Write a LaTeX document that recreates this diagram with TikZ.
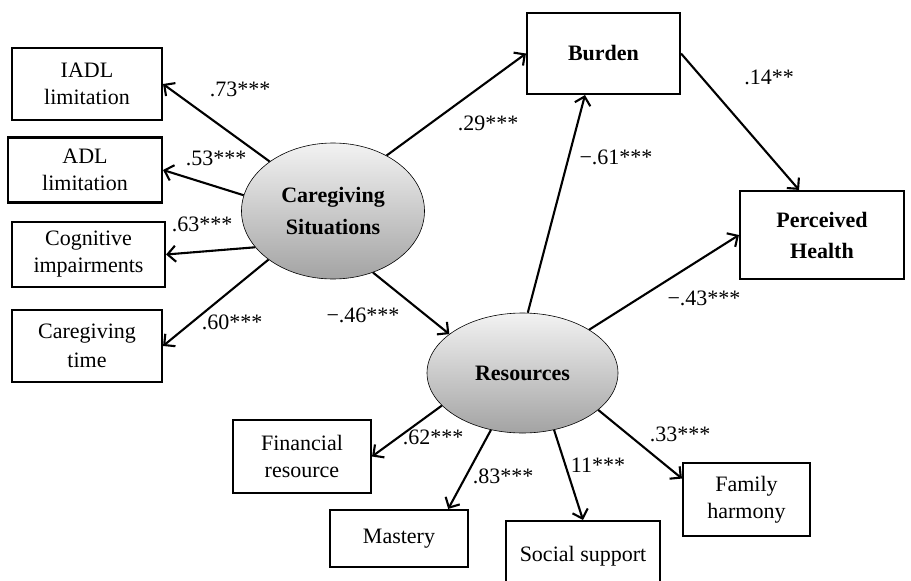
\documentclass[tikz,border=0pt]{standalone}
\usepackage{fontspec}
\setmainfont{Liberation Serif}
\usetikzlibrary{shapes.geometric,arrows.meta}

\begin{document}
\begin{tikzpicture}[x=1pt,y=-1pt,
  font=\fontsize{22}{27}\selectfont,
  var/.style={draw,line width=2.1pt,align=center,inner sep=0pt},
  boldvar/.style={var,font=\fontsize{22}{31}\selectfont\bfseries},
  latent/.style={ellipse,draw,line width=0.6pt,top color=gray!10,bottom color=gray!72,
    align=center,inner sep=0pt,font=\fontsize{22}{32}\selectfont\bfseries},
  path/.style={line width=2.1pt,-{Straight Barb[length=8pt,width=16pt]}},
  coef/.style={inner sep=0pt}]
\clip (0,0) rectangle (911,581);

\node[var,minimum width=150,minimum height=72] (iadl) at (87,84) {IADL\\limitation};
\node[var,minimum width=154,minimum height=65] (adl) at (85,170) {ADL\\limitation};
\node[var,minimum width=153,minimum height=65] (cog) at (88.5,254.5) {Cognitive\\impairments};
\node[var,minimum width=150,minimum height=72,font=\fontsize{22}{29}\selectfont] (ctime) at (87,346) {Caregiving\\time};
\node[boldvar,minimum width=153,minimum height=81] (burden) at (603.5,53.5) {Burden};
\node[boldvar,minimum width=164,minimum height=88] (health) at (822,235) {Perceived\\Health};
\node[var,minimum width=138,minimum height=73] (fin) at (302,456.5) {Financial\\resource};
\node[var,minimum width=138,minimum height=57] (mastery) at (399,538.5) {Mastery};
\node[var,minimum width=154,minimum height=70] (social) at (583,556) {Social support};
\node[var,minimum width=127,minimum height=73] (family) at (746.5,499.5) {Family\\harmony};

\node[latent,minimum width=183,minimum height=136] (cs) at (333,211) {Caregiving\\Situations};
\node[latent,minimum width=191,minimum height=120] (res) at (522.5,373) {Resources};

\draw[path] (cs.142) -- (iadl.east);
\draw[path] (cs.170) -- (adl.east);
\draw[path] (cs.205) -- (cog.east);
\draw[path] (cs.217) -- (ctime.east);
\draw[path] (cs.46) -- (burden.west);
\draw[path] (cs.303) -- (res.152);
\draw[path] (res.85) -- (burden.246);
\draw[path] (res.33) -- (health.west);
\draw[path] (burden.east) -- (health.117);
\draw[path] (res.202) -- (fin.east);
\draw[path] (res.241) -- (mastery.31);
\draw[path] (res.299) -- (social.north);
\draw[path] (res.334) -- (family.162);

\node[coef] (c73) at (240,89) {.73***};
\node[coef] (c53) at (216,158) {.53***};
\node[coef] (c63) at (202,224) {.63***};
\node[coef] (c60) at (232,322) {.60***};
\node[coef] (c46) at (363,315) {−.46***};
\node[coef] (c29) at (488,123) {.29***};
\node[coef] (c61) at (616,157) {−.61***};
\node[coef] (c14) at (769,77) {.14**};
\node[coef] (c43) at (704,298) {−.43***};
\node[coef] (c62) at (433,437) {.62***};
\node[coef] (c83) at (503,476) {.83***};
\node[coef] (c11) at (598,465) {11***};
\node[coef] (c33) at (680,434) {.33***};
\end{tikzpicture}
\end{document}
